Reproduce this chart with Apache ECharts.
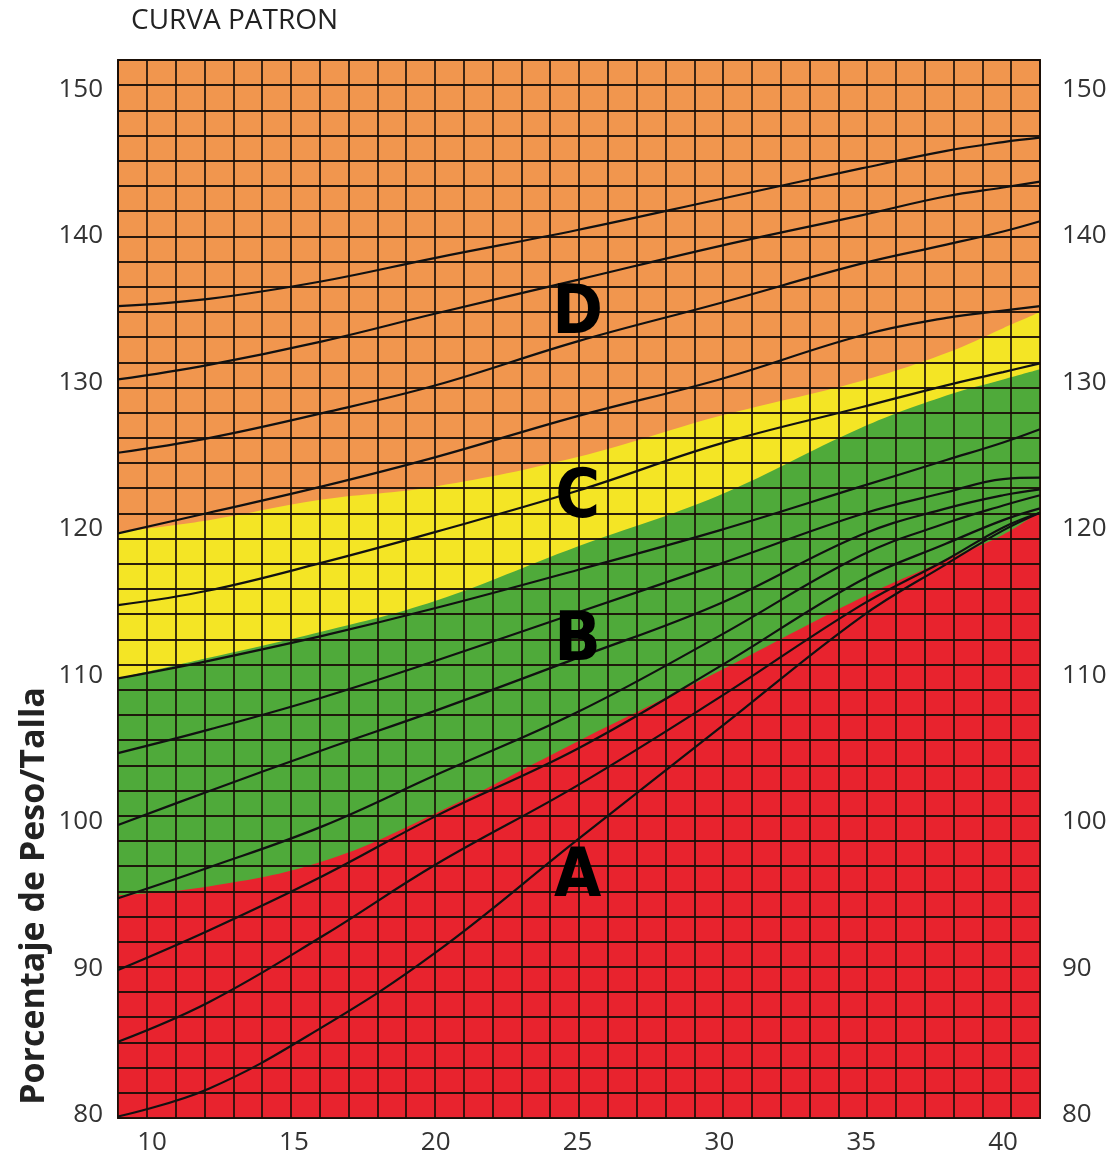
<!DOCTYPE html>
<html>
<head>
<meta charset="utf-8">
<script src="https://cdn.jsdelivr.net/npm/echarts@6/dist/echarts.min.js"></script>
<style>html,body{margin:0;padding:0;background:#fff}#c{width:1115px;height:1162px}</style>
</head>
<body>
<div id="c"></div>
<script>
// sample x positions (edge to edge of the plot)
const xs = [8.8, 12, 16, 20, 25, 30, 35, 38, 40, 41.3];
const xTicks = [10, 15, 20, 25, 30, 35, 40];
const yTicks = [80, 90, 100, 110, 120, 130, 140, 150];

// zone boundaries (upper edge of each coloured zone)
const zoneC = [119.8, 120.6, 122.0, 122.9, 124.9, 127.7, 130.1, 132.0, 133.7, 134.8]; // orange / yellow
const zoneB = [109.8, 111.2, 113.0, 115.1, 118.8, 122.3, 126.9, 129.1, 130.2, 130.9]; // yellow / green
const zoneA = [95.0, 95.6, 97.3, 100.6, 105.5, 110.3, 115.3, 117.9, 119.6, 121.2];    // green / red

// reference curves
const c1  = [135.2, 135.7, 136.9, 138.5, 140.4, 142.5, 144.6, 145.8, 146.4, 146.7];
const c2  = [130.2, 131.2, 132.8, 134.7, 137.0, 139.3, 141.4, 142.7, 143.3, 143.7];
const c3  = [125.2, 126.2, 127.9, 129.8, 132.8, 135.4, 138.1, 139.4, 140.3, 141.0];
const c4  = [119.7, 121.1, 122.9, 124.9, 127.7, 130.2, 133.2, 134.4, 134.9, 135.2];
const c5  = [114.8, 115.8, 117.7, 119.8, 122.6, 125.8, 128.3, 129.8, 130.7, 131.3];
const c6  = [109.8, 111.0, 112.7, 114.6, 117.2, 119.9, 122.9, 124.7, 125.9, 126.8];
const c7  = [104.7, 106.3, 108.5, 111.0, 114.3, 117.6, 121.0, 122.5, 123.4, 123.5];
const c8  = [99.8, 102.1, 104.9, 107.6, 111.2, 114.9, 119.6, 121.4, 122.3, 122.7];
const c9  = [94.8, 96.9, 99.7, 103.2, 107.5, 112.7, 118.2, 120.4, 121.6, 122.3];
const c10 = [89.9, 92.6, 96.3, 100.4, 105.0, 110.6, 116.5, 119.0, 120.6, 121.4];
const c11 = [85.0, 87.7, 92.2, 97.1, 102.5, 108.5, 114.8, 117.9, 120.1, 121.1];
const c12 = [79.9, 81.8, 86.0, 91.1, 98.8, 106.4, 114.0, 117.6, 119.9, 121.1];
const curves = [c1, c2, c3, c4, c5, c6, c7, c8, c9, c10, c11, c12];

const zoneLetters = [[25, 134.6, 'D'], [25, 122.0, 'C'], [25, 112.25, 'B'], [25, 96.15, 'A']];

const pairs = arr => xs.map((x, i) => [x, arr[i]]);

const chart = echarts.init(document.getElementById('c'), null, {renderer: 'canvas'});

const labelFont = {fontFamily: '"Open Sans", "Liberation Sans", sans-serif', fontSize: 26, color: '#333'};
const gridLine = {show: true, lineStyle: {color: 'rgba(25,14,8,0.92)', width: 1.8}};

function zone(data, color) {
  return {
    type: 'line', data: pairs(data), smooth: 0.4, symbol: 'none',
    lineStyle: {width: 0}, areaStyle: {color: color, opacity: 1, origin: 'start'},
    z: 1, silent: true, animation: false
  };
}

const series = [
  zone(zoneC, '#F4E525'),
  zone(zoneB, '#4FAA3A'),
  zone(zoneA, '#E8232E')
];
curves.forEach(c => series.push({
  type: 'line', data: pairs(c), smooth: 0.4, symbol: 'none',
  lineStyle: {color: '#111', width: 2.2}, z: 5, animation: false
}));
series.push({
  type: 'scatter', data: zoneLetters, symbol: 'circle', symbolSize: 0,
  itemStyle: {color: '#000', opacity: 1}, z: 8,
  label: {show: true, position: 'inside', formatter: p => p.value[2],
    fontFamily: '"Liberation Sans Narrow", "DejaVu Sans Condensed", sans-serif',
    fontWeight: 'bold', fontSize: 68, color: '#000', opacity: 1},
  emphasis: {disabled: true},
  animation: false
});

chart.setOption({
  backgroundColor: '#fff',
  animation: false,
  grid: {left: 118, top: 60, right: 75, bottom: 44, show: true,
    backgroundColor: '#F1964E', borderColor: '#2a1a10', borderWidth: 2},
  xAxis: [
    {type: 'value', min: 8.8, max: 41.3, position: 'bottom',
      axisLine: {show: false}, axisTick: {show: false}, splitLine: {show: false},
      axisLabel: Object.assign({customValues: xTicks, margin: 12}, labelFont)},
    {type: 'value', min: 0, max: 32, interval: 1, position: 'top', z: 3,
      axisLine: {show: false}, axisTick: {show: false}, axisLabel: {show: false},
      splitLine: gridLine}
  ],
  yAxis: [
    {type: 'value', min: 79.8, max: 152, position: 'left',
      axisLine: {show: false}, axisTick: {show: false}, splitLine: {show: false},
      axisLabel: Object.assign({customValues: yTicks, margin: 15}, labelFont)},
    {type: 'value', min: 79.8, max: 152, position: 'right',
      axisLine: {show: false}, axisTick: {show: false}, splitLine: {show: false},
      axisLabel: Object.assign({customValues: yTicks, margin: 22}, labelFont)},
    {type: 'value', min: 0, max: 42, interval: 1, position: 'left', z: 3,
      axisLine: {show: false}, axisTick: {show: false}, axisLabel: {show: false},
      splitLine: gridLine}
  ],
  graphic: [
    {type: 'text', left: 131, top: 7, z: 10,
      style: {text: 'CURVA PATRON', font: '28px "Open Sans", sans-serif', fill: '#222'}},
    {type: 'text', x: 34, y: 896, rotation: Math.PI / 2, z: 10,
      style: {text: 'Porcentaje de Peso/Talla', font: 'bold 34px "Open Sans", sans-serif',
        fill: '#222', textAlign: 'center', textVerticalAlign: 'middle'}}
  ],
  series: series
});
</script>
</body>
</html>
